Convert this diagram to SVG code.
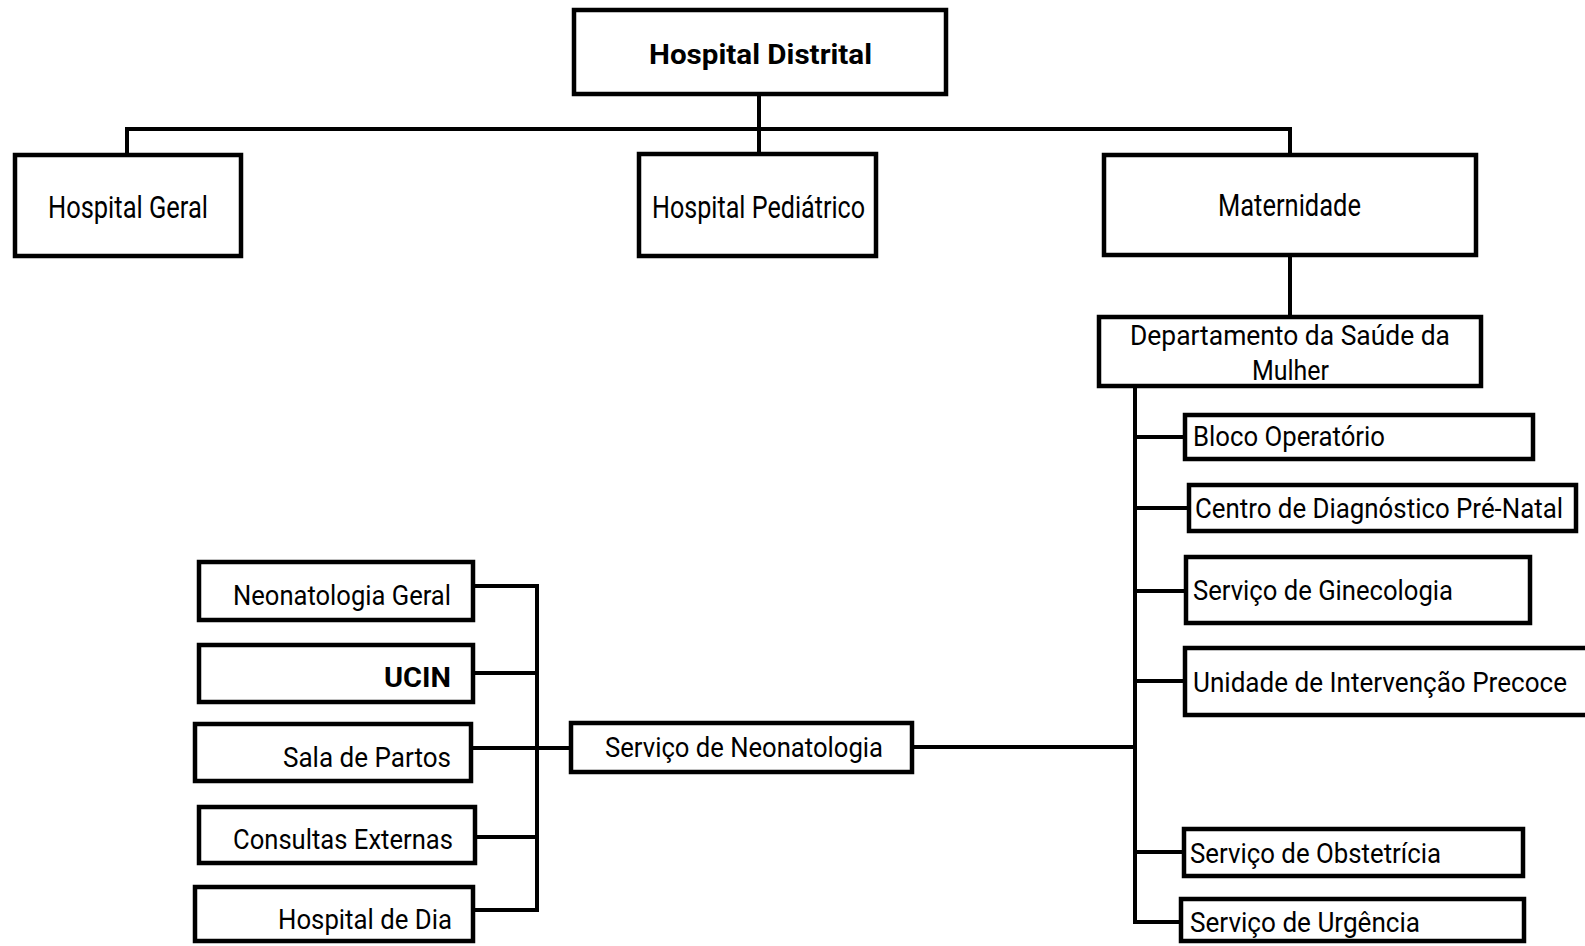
<svg xmlns="http://www.w3.org/2000/svg" width="1585" height="946" viewBox="0 0 1585 946">
<style>
.box{fill:#fff;stroke:#000;stroke-width:4.5;stroke-linejoin:miter}
.c{fill:none;stroke:#000;stroke-width:4;stroke-linejoin:miter;stroke-linecap:butt}
text{font-family:"Liberation Sans Narrow","Roboto","Liberation Sans",sans-serif;font-size:28px;fill:#000}
.t{font-size:31px}
.b{font-weight:bold}
</style>
<rect width="1585" height="946" fill="#fff"/>
<g id="connectors">
<path class="c" d="M759 96 V153 M127 153 V129 H1290 V153"/>
<path class="c" d="M1290 257 V315"/>
<path class="c" d="M1135 388 V922 H1181 M1135 437 H1185 M1135 508 H1189 M1135 591 H1186 M1135 681 H1185 M1135 852 H1184"/>
<path class="c" d="M912 747 H1135"/>
<path class="c" d="M473 586 H537 V910 H473 M473 673 H537 M471 748 H571 M475 837 H537"/>
</g>
<g id="hospital-distrital"><rect class="box" x="574" y="10" width="372" height="84"/><text class="b" x="649" y="64" font-size="29" textLength="223" lengthAdjust="spacingAndGlyphs">Hospital Distrital</text></g>
<g id="hospital-geral"><rect class="box" x="15" y="155" width="226" height="101"/><text class="t" x="48" y="218" textLength="160" lengthAdjust="spacingAndGlyphs">Hospital Geral</text></g>
<g id="hospital-pediatrico"><rect class="box" x="639" y="154" width="237" height="102"/><text class="t" x="652" y="218" textLength="213" lengthAdjust="spacingAndGlyphs">Hospital Pediátrico</text></g>
<g id="maternidade"><rect class="box" x="1104" y="155" width="372" height="100"/><text class="t" x="1218" y="216" textLength="143" lengthAdjust="spacingAndGlyphs">Maternidade</text></g>
<g id="dept-saude-mulher"><rect class="box" x="1099" y="317" width="382" height="69"/><text x="1130" y="345" textLength="320" lengthAdjust="spacingAndGlyphs">Departamento da Saúde da</text><text x="1252" y="380" textLength="77" lengthAdjust="spacingAndGlyphs">Mulher</text></g>
<g id="bloco-operatorio"><rect class="box" x="1185" y="415" width="348" height="44"/><text x="1193" y="446" textLength="192" lengthAdjust="spacingAndGlyphs">Bloco Operatório</text></g>
<g id="centro-diagnostico"><rect class="box" x="1189" y="485" width="387" height="46"/><text x="1195" y="518" textLength="368" lengthAdjust="spacingAndGlyphs">Centro de Diagnóstico Pré-Natal</text></g>
<g id="servico-ginecologia"><rect class="box" x="1186" y="557" width="344" height="66"/><text x="1193" y="600" textLength="260" lengthAdjust="spacingAndGlyphs">Serviço de Ginecologia</text></g>
<g id="unidade-intervencao"><rect class="box" x="1185" y="648" width="410" height="67"/><text x="1193" y="692" textLength="374" lengthAdjust="spacingAndGlyphs">Unidade de Intervenção Precoce</text></g>
<g id="servico-obstetricia"><rect class="box" x="1184" y="829" width="339" height="47"/><text x="1190" y="863" textLength="251" lengthAdjust="spacingAndGlyphs">Serviço de Obstetrícia</text></g>
<g id="servico-urgencia"><rect class="box" x="1181" y="899" width="343" height="42"/><text x="1190" y="932" textLength="230" lengthAdjust="spacingAndGlyphs">Serviço de Urgência</text></g>
<g id="servico-neonatologia"><rect class="box" x="571" y="723" width="341" height="49"/><text x="605" y="757" textLength="278" lengthAdjust="spacingAndGlyphs">Serviço de Neonatologia</text></g>
<g id="neonatologia-geral"><rect class="box" x="199" y="562" width="274" height="58"/><text x="233" y="605" textLength="218" lengthAdjust="spacingAndGlyphs">Neonatologia Geral</text></g>
<g id="ucin"><rect class="box" x="199" y="645" width="274" height="57"/><text class="b" x="384" y="687" textLength="67" lengthAdjust="spacingAndGlyphs">UCIN</text></g>
<g id="sala-partos"><rect class="box" x="195" y="724" width="276" height="57"/><text x="283" y="767" textLength="168" lengthAdjust="spacingAndGlyphs">Sala de Partos</text></g>
<g id="consultas-externas"><rect class="box" x="199" y="807" width="276" height="56"/><text x="233" y="849" textLength="220" lengthAdjust="spacingAndGlyphs">Consultas Externas</text></g>
<g id="hospital-dia"><rect class="box" x="195" y="887" width="278" height="54"/><text x="278" y="929" textLength="174" lengthAdjust="spacingAndGlyphs">Hospital de Dia</text></g>
</svg>
